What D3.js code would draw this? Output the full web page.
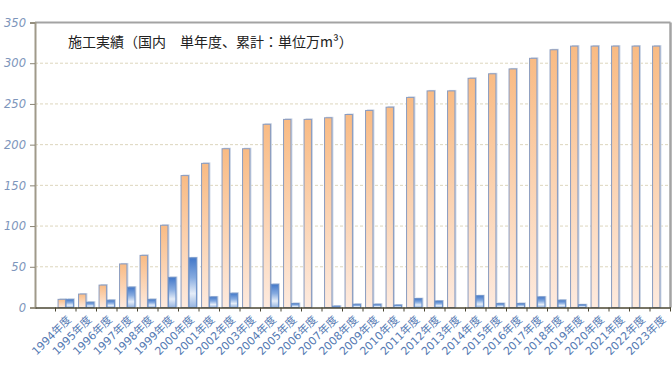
<!DOCTYPE html>
<html>
<head>
<meta charset="utf-8">
<script src="https://cdn.jsdelivr.net/npm/d3@7"></script>
<style>
  body { margin: 0; background: #fff; }
  svg { display: block; }
</style>
</head>
<body>
<div id="chart"></div>
<script>
// Data
var years = [1994, 1995, 1996, 1997, 1998, 1999, 2000, 2001, 2002, 2003,
             2004, 2005, 2006, 2007, 2008, 2009, 2010, 2011, 2012, 2013,
             2014, 2015, 2016, 2017, 2018, 2019, 2020, 2021, 2022, 2023];
// cumulative (累計)
var cumulative = [10, 16.5, 27.5, 53.5, 64, 101, 162, 177, 195, 195,
                  225, 231, 231, 233, 237, 242, 246, 258, 266, 266,
                  281.5, 287, 293, 306, 316.5, 321, 321, 321, 321, 321];
// single year (単年度)
var annual = [10, 6.5, 9, 25, 10, 37, 61, 13, 17.5, 0,
              28.5, 5, 0, 1.7, 4, 4, 3, 11, 8, 0,
              14.5, 5, 5, 13, 9, 3.5, 0, 0, 0, 0];
var yTicks = [0, 50, 100, 150, 200, 250, 300, 350];
var title = "施工実績（国内　単年度、累計：単位万m³）";

var width = 672, height = 368;
var margin = {top: 22.5, right: 1.5, bottom: 60.5, left: 35};
var innerW = width - margin.left - margin.right;
var innerH = height - margin.top - margin.bottom;

var svg = d3.select("#chart").append("svg")
    .attr("width", width)
    .attr("height", height);

// Gradients
var defs = svg.append("defs");
var gOrange = defs.append("linearGradient").attr("id", "gOrange")
    .attr("x1", 0).attr("y1", 0).attr("x2", 0).attr("y2", 1);
gOrange.append("stop").attr("offset", "0%").attr("stop-color", "#f9bb84");
gOrange.append("stop").attr("offset", "100%").attr("stop-color", "#fdeade");
var gBlue = defs.append("linearGradient").attr("id", "gBlue")
    .attr("x1", 0).attr("y1", 0).attr("x2", 0).attr("y2", 1);
gBlue.append("stop").attr("offset", "0%").attr("stop-color", "#4277c8");
gBlue.append("stop").attr("offset", "40%").attr("stop-color", "#86abe0");
gBlue.append("stop").attr("offset", "72%").attr("stop-color", "#e5edf8");
gBlue.append("stop").attr("offset", "100%").attr("stop-color", "#95b4e0");

var g = svg.append("g")
    .attr("transform", "translate(" + margin.left + "," + margin.top + ")");

// Scales: first slot is an empty category
var slots = [""].concat(years.map(function(d) { return d + "年度"; }));
var x0 = d3.scaleBand()
    .domain(slots)
    .range([0, innerW])
    .paddingInner(0.25)
    .paddingOuter(0.125);
var x1 = d3.scaleBand()
    .domain(["cum", "one"])
    .range([0, x0.bandwidth()])
    .paddingInner(0.08);
var y = d3.scaleLinear()
    .domain([0, 350])
    .range([innerH, 0]);

// Gridlines
g.append("g").selectAll("line")
    .data(yTicks.filter(function(d) { return d > 0 && d < 350; }))
    .enter().append("line")
    .attr("x1", 0).attr("x2", innerW)
    .attr("y1", function(d) { return y(d); })
    .attr("y2", function(d) { return y(d); })
    .attr("stroke", "#ddd6bd")
    .attr("stroke-width", 1)
    .attr("stroke-dasharray", "3,2");

// Frame: top and right border
g.append("line")
    .attr("x1", 0).attr("x2", innerW)
    .attr("y1", 0).attr("y2", 0)
    .attr("stroke", "#a3a3a3").attr("stroke-width", 2);
g.append("line")
    .attr("x1", innerW).attr("x2", innerW)
    .attr("y1", 0).attr("y2", innerH)
    .attr("stroke", "#a3a3a3").attr("stroke-width", 2.5);

// Bars
var rows = years.map(function(yr, i) {
    return {label: yr + "年度", cum: cumulative[i], one: annual[i]};
});
var bars = g.append("g").selectAll("g")
    .data(rows)
    .enter().append("g")
    .attr("transform", function(d) { return "translate(" + x0(d.label) + ",0)"; });

function drawBar(sel, key, fill, stroke) {
    var b = sel.filter(function(d) { return d[key] > 0; });
    // soft shadow
    b.append("rect")
        .attr("x", x1(key) + 1.5)
        .attr("y", function(d) { return y(d[key]) - 1; })
        .attr("width", x1.bandwidth())
        .attr("height", function(d) { return innerH - y(d[key]) + 1; })
        .attr("fill", "#cbd5e5");
    b.append("rect")
        .attr("x", x1(key))
        .attr("y", function(d) { return y(d[key]); })
        .attr("width", x1.bandwidth())
        .attr("height", function(d) { return innerH - y(d[key]); })
        .attr("fill", fill)
        .attr("stroke", stroke)
        .attr("stroke-width", 1);
}
drawBar(bars, "cum", "url(#gOrange)", "#8a9cc0");
drawBar(bars, "one", "url(#gBlue)", "#6a90c9");

// Y axis
var yAxis = d3.axisLeft(y).tickValues(yTicks).tickSize(5).tickPadding(4);
var yG = g.append("g").call(yAxis);
yG.select(".domain").attr("stroke", "#a09a8a").attr("stroke-width", 2);
yG.selectAll(".tick line").attr("stroke", "#8a8474");
yG.selectAll("text")
    .attr("fill", "#7d95bb")
    .style("font-family", "DejaVu Sans")
    .style("font-style", "italic")
    .style("font-size", "11.5px");

// X axis (labels centred, ticks at slot boundaries)
var xAxis = d3.axisBottom(x0).tickSize(0).tickFormat(function(d) { return d; });
var xG = g.append("g")
    .attr("transform", "translate(0," + innerH + ")")
    .call(xAxis);
xG.select(".domain").attr("stroke", "#4a4632").attr("stroke-width", 1.5);
xG.selectAll(".tick text")
    .attr("fill", "#557ab3")
    .attr("text-anchor", "end")
    .attr("dy", null)
    .attr("y", 0)
    .attr("transform", "translate(6,13) rotate(-45)")
    .style("font-family", "DejaVu Sans, Noto Sans CJK JP")
    .style("font-size", "11px");

var step = x0.step();
xG.append("g").selectAll("line")
    .data(slots.slice(1).concat(["end"]))
    .enter().append("line")
    .attr("x1", function(d, i) { return (i + 1) * step; })
    .attr("x2", function(d, i) { return (i + 1) * step; })
    .attr("y1", 0).attr("y2", 4)
    .attr("stroke", "#4a4632");

// Title
svg.append("text")
    .attr("x", 68)
    .attr("y", 47)
    .attr("fill", "#222")
    .style("font-family", "Noto Sans CJK JP")
    .style("font-size", "14px")
    .text(title);
</script>
</body>
</html>
